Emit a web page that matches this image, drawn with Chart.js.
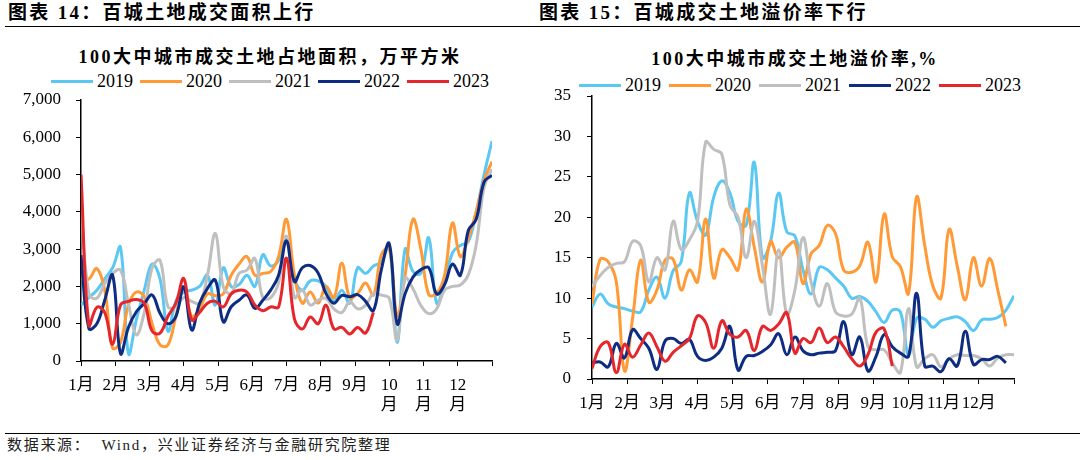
<!DOCTYPE html>
<html>
<head>
<meta charset="utf-8">
<script src="https://cdn.jsdelivr.net/npm/chart.js@4.4.1/dist/chart.umd.min.js"></script>
<style>
  body { margin: 0; width: 1080px; height: 460px; background: #fff; position: relative; overflow: hidden;
         font-family: 'Liberation Serif', 'Noto Sans CJK SC', serif; color: #000; }
  .hdr { position: absolute; top: 3px; font-size: 19px; line-height: 20px; font-weight: bold; letter-spacing: 2.3px; white-space: nowrap; }
  .rule { position: absolute; left: 5px; width: 1075px; height: 0; border-top: 1.5px solid #000; }
  .ttl { position: absolute; font-size: 18px; line-height: 22px; font-weight: bold; letter-spacing: 2.5px; text-align: center; white-space: nowrap; }
  .lgd { position: absolute; display: flex; align-items: center; font-size: 18px; line-height: 20px; white-space: nowrap; }
  .lgd .it { display: flex; align-items: center; }
  .lgd .ln { width: 42px; height: 3px; margin-right: 4px; }
  .foot { position: absolute; left: 7px; top: 436px; font-size: 15px; line-height: 18px; letter-spacing: 1.7px; color: #222; white-space: nowrap; }
  canvas { position: absolute; }
</style>
</head>
<body>
<div class="hdr" style="left:8px">图表 14：百城土地成交面积上行</div>
<div class="hdr" style="left:539px">图表 15：百城成交土地溢价率下行</div>
<div class="rule" style="top:26px"></div>

<div class="ttl" style="left:0; width:540px; top:46px">100大中城市成交土地占地面积，万平方米</div>
<div class="ttl" style="left:580px; width:430px; top:48px">100大中城市成交土地溢价率,%</div>
<div class="lgd" id="lgdArea" style="left:51px; top:71px"></div>
<div class="lgd" id="lgdPrem" style="left:579px; top:75px"></div>

<canvas id="areaChart" width="540" height="340" style="left:0; top:90px"></canvas>
<canvas id="premChart" width="540" height="344" style="left:540px; top:86px"></canvas>

<div class="rule" style="top:433px"></div>
<div class="foot">数据来源：&nbsp;&nbsp;Wind，兴业证券经济与金融研究院整理</div>

<script>
const years = ["2019", "2020", "2021", "2022", "2023"];
const colors = ["#5BC8F4", "#FF9A36", "#BFBFBF", "#0E2C82", "#E5262B"];
const months = ["1月", "2月", "3月", "4月", "5月", "6月", "7月", "8月", "9月", "10月", "11月", "12月"];
const WEEKS = 52;

// 100大中城市成交土地占地面积（万平方米），按周
const area2019 = [1500, 1700, 1900, 2200, 2500, 3050, 200, 1100, 1900, 2600, 2200, 800, 1600, 1850, 1900, 2000, 2300, 1500, 2500, 2000, 2050, 2300, 2000, 2850, 2550, 2700, 3200, 2200, 1900, 2150, 2150, 2000, 1600, 1900, 1550, 2500, 2350, 2550, 2650, 3100, 500, 3000, 2400, 2350, 3300, 1550, 2100, 2900, 3100, 3200, 4000, 5000, 5900];
const area2020 = [2200, 2200, 2480, 1900, 350, 500, 1500, 1850, 1720, 1000, 430, 430, 1200, 1990, 1190, 1400, 1800, 1750, 1800, 2300, 2600, 2800, 2300, 2350, 2400, 2800, 3800, 2300, 1550, 1850, 1550, 2000, 1700, 2620, 1700, 1810, 2090, 1770, 2850, 3030, 1220, 2300, 3800, 3000, 1780, 1810, 2300, 3700, 2800, 3300, 4000, 4840, 5350];
const area2021 = [4100, 1800, 1680, 2080, 2350, 2440, 1545, 700, 1300, 2500, 2700, 1455, 1455, 1700, 1600, 1550, 2300, 3420, 1990, 1810, 2350, 2440, 2750, 1700, 1700, 2100, 3350, 1700, 1900, 1500, 1630, 1680, 1400, 1300, 1585, 1400, 1490, 1810, 1765, 1680, 560, 2220, 1940, 1490, 1270, 1400, 1900, 2000, 2040, 2310, 3120, 4660, 5150];
const area2022 = [2840, 870, 1000, 1630, 2300, 200, 900, 1320, 1540, 1770, 1280, 1000, 1190, 1990, 830, 1545, 1950, 2170, 1050, 1455, 1630, 1770, 1410, 1630, 1900, 2300, 3220, 2130, 2500, 2560, 2360, 1810, 1550, 1760, 1720, 1780, 1600, 1350, 2450, 3150, 1000, 1800, 2250, 2450, 2500, 1800, 2050, 2600, 2300, 3500, 3800, 4800, 4980];
const area2023 = [5000, 960, 1440, 1300, 450, 1500, 1600, 1650, 1550, 800, 750, 1200, 1550, 2210, 1100, 1300, 1550, 1600, 1450, 1800, 1900, 1850, 1500, 1350, 1450, 1450, 2760, 1130, 860, 1180, 1000, 1500, 860, 900, 725, 900, 750, 1300];

// 100大中城市成交土地溢价率（%），按周
const prem2019 = [8.9, 10.5, 9.3, 8.9, 8.7, 8.4, 8.3, 11, 12.6, 10, 13.4, 14.5, 23, 19.5, 17.8, 22.5, 24.5, 23, 19.5, 19, 26.8, 15, 17, 23, 18.2, 17.7, 13.5, 10.5, 13.8, 13.5, 12.5, 11.5, 10, 10.2, 9.6, 8.3, 7, 8.5, 8.3, 3, 7.5, 7.4, 6.4, 7.2, 7.5, 7.7, 7.1, 6, 7.3, 7.4, 7.6, 8.5, 10.3];
const prem2020 = [9.3, 14.8, 14.5, 12, 1, 7.5, 14.7, 9.5, 11, 14.7, 14.8, 11, 13.5, 12, 19.8, 12.5, 16, 15, 13.5, 21, 16.3, 12, 17, 15, 16.3, 16.9, 11.8, 15.5, 16.5, 19, 18, 13.5, 13.2, 14, 16.9, 12, 20.4, 15.1, 13.9, 10.6, 22.5, 16.5, 11.5, 10, 18.5, 14, 9.8, 15, 11.5, 14.9, 11, 6.5];
const prem2021 = [11.4, 12.8, 13.8, 14.3, 14.5, 17, 16.5, 12, 15, 13.5, 19.5, 16, 17.2, 19.5, 29.3, 28.4, 27.8, 21.5, 20, 15, 19.5, 14, 8, 16, 8, 11, 17.5, 12, 9, 11.8, 8.3, 7.8, 8, 10, 4, 3.6, 3.6, 2, 0.8, 8.7, 1.5, 2.5, 3, 1.5, 2.5, 3, 2.9, 2.9, 2.5, 1.6, 2.6, 3, 3];
const prem2022 = [2, 2.1, 1.5, 4.4, 2.6, 6.1, 5, 3.8, 1.2, 4.7, 5, 4.4, 4.9, 2.8, 2.3, 2.7, 3.8, 6.5, 1.1, 2.8, 2.9, 3.4, 4.2, 5.6, 3, 5.2, 3.5, 3, 3.2, 3.3, 3.5, 7.1, 3, 5.2, 1, 2.8, 5.5, 4, 3.2, 2.8, 10.6, 1.6, 1.6, 0.9, 2.5, 1.6, 5.9, 1.8, 2.4, 2.4, 2.8, 2];
const prem2023 = [1.3, 4, 4.5, 0.8, 4.3, 2.7, 4.2, 5.7, 4, 2.2, 3.3, 4.1, 5, 7.8, 7, 3.8, 7.2, 5.5, 5.2, 6, 3.5, 6.5, 6, 6.8, 8.2, 3.2, 5, 4.5, 6.3, 4.5, 5.2, 4, 2.5, 1.6, 3, 5.8, 6.2, 1.6];

const tickFont = { family: "'Liberation Serif', 'Noto Sans CJK SC', serif", size: 17, lineHeight: 1.2 };

function buildLegend(id, gap) {
  const box = document.getElementById(id);
  years.forEach((y, i) => {
    const it = document.createElement("div");
    it.className = "it";
    it.style.marginRight = gap + "px";
    it.innerHTML = '<span class="ln" style="background:' + colors[i] + '"></span><span>' + y + "</span>";
    box.appendChild(it);
  });
}
buildLegend("lgdArea", 7);
buildLegend("lgdPrem", 8);

function makeChart(canvasId, series, cfg) {
  const datasets = series.map((vals, i) => ({
    label: years[i],
    data: vals.map((v, k) => ({ x: k, y: v })),
    borderColor: colors[i],
    borderWidth: 3,
    pointRadius: 0,
    tension: 0.4,
    fill: false,
    order: series.length - i,
  }));

  return new Chart(document.getElementById(canvasId), {
    type: "line",
    data: { datasets },
    options: {
      responsive: false,
      animation: false,
      layout: { padding: { top: 10, right: cfg.padRight, left: 0, bottom: 0 } },
      plugins: { legend: { display: false }, tooltip: { enabled: false } },
      scales: {
        x: {
          type: "linear",
          min: 0,
          max: WEEKS,
          afterBuildTicks: (s) => {
            s.ticks = [];
            for (let m = 0; m <= 12; m++) s.ticks.push({ value: (m * WEEKS) / 12 });
          },
          ticks: {
            autoSkip: false,
            maxRotation: 0,
            padding: 9,
            color: "#000",
            font: tickFont,
            callback: (v, i) => (i < 12 ? cfg.monthLabel(i) : ""),
          },
          grid: { drawOnChartArea: false, drawTicks: true, tickLength: 5, color: "#000", lineWidth: 1 },
          border: { color: "#000", width: 1.5 },
          afterFit: (s) => {
            s.height = cfg.xHeight;
            s.paddingLeft = 0;
            s.paddingRight = 0;
          },
        },
        y: {
          min: 0,
          max: cfg.yMax,
          ticks: {
            stepSize: cfg.yStep,
            padding: cfg.yPad,
            color: "#000",
            font: tickFont,
            callback: (v) => v.toLocaleString("en-US"),
          },
          grid: { drawOnChartArea: false, drawTicks: true, tickLength: 5, color: "#000", lineWidth: 1 },
          border: { color: "#000", width: 1.5 },
          afterFit: (s) => {
            s.width = cfg.yWidth;
            s.paddingTop = 0;
            s.paddingBottom = 0;
          },
        },
      },
    },
  });
}

makeChart("areaChart", [area2019, area2020, area2021, area2022, area2023], {
  padRight: 48,
  xHeight: 69,
  yWidth: 81,
  yMax: 7000,
  yStep: 1000,
  yPad: 15,
  monthLabel: (i) => (i >= 9 ? [String(i + 1), "月"] : months[i]),
});

makeChart("premChart", [prem2019, prem2020, prem2021, prem2022, prem2023], {
  padRight: 66,
  xHeight: 51,
  yWidth: 52,
  yMax: 35,
  yStep: 5,
  yPad: 16,
  monthLabel: (i) => months[i],
});
</script>
</body>
</html>
